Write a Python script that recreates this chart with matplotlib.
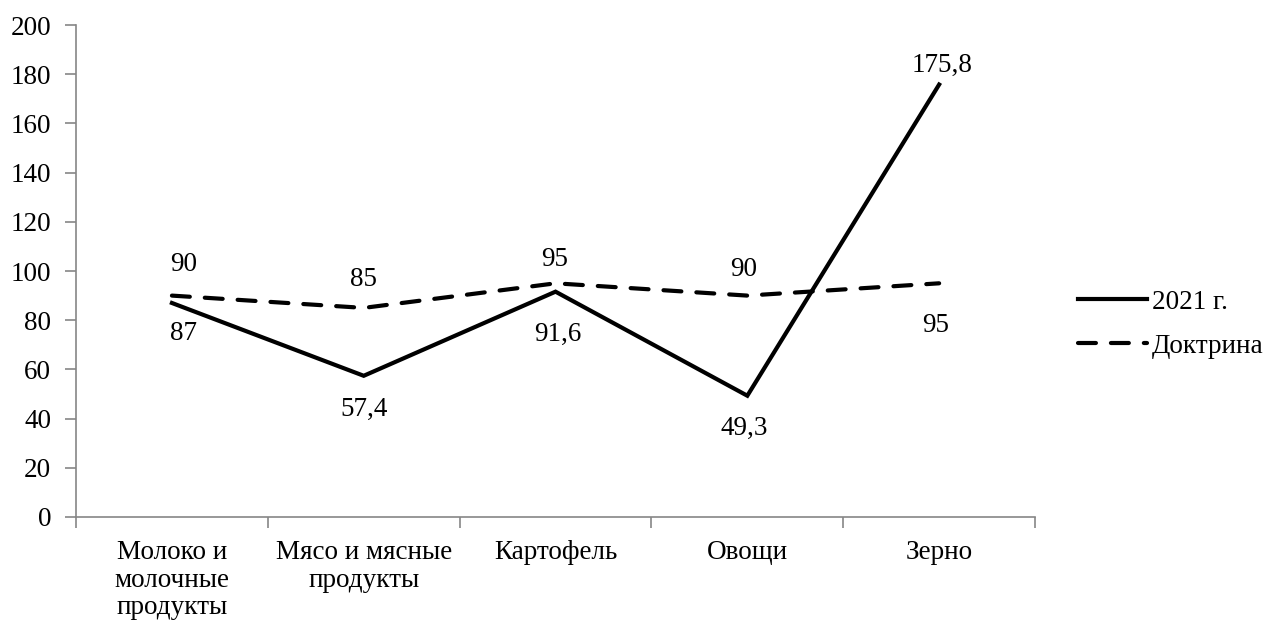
import matplotlib.pyplot as plt
from matplotlib.ticker import FixedLocator, NullFormatter

categories = ["Молоко и\nмолочные\nпродукты", "Мясо и мясные\nпродукты",
              "Картофель", "Овощи", "Зерно"]
series_2021 = [87, 57.4, 91.6, 49.3, 175.8]
series_doctrine = [90, 85, 95, 90, 95]
yticks = list(range(0, 201, 20))

# label placement, pixel offsets (dx, dy) from each point
offsets_2021 = [(12, -31), (0, -34), (2, -43), (-3, -33), (3, 19)]
offsets_doctrine = [(12, 31), (0, 28), (-1, 24), (-4, 26), (-4, -42)]

plt.rcParams['font.family'] = ['Liberation Serif', 'DejaVu Serif']
FS = 19.5

fig = plt.figure(figsize=(12.63, 6.21), dpi=100)
ax = fig.add_axes([0.0602, 0.1675, 0.7593, 0.7922])

x = list(range(len(categories)))
l1, = ax.plot(x, series_2021, color='black', lw=3.0, solid_joinstyle='miter',
              label="2021 г.")
l2, = ax.plot(x, series_doctrine, color='black', lw=3.0, dashes=(4.3, 3.6),
              dash_capstyle='round', label="Доктрина")

ax.set_xlim(-0.5, len(categories) - 0.5)
ax.set_ylim(0, 200)
ax.set_yticks(yticks)
ax.set_yticklabels([str(v) for v in yticks], fontsize=FS)

ax.xaxis.set_major_locator(FixedLocator([i - 0.5 for i in range(len(categories) + 1)]))
ax.xaxis.set_major_formatter(NullFormatter())
for i, c in enumerate(categories):
    ax.text(i, -9.5, c, ha='center', va='top', fontsize=FS, linespacing=1.12,
            transform=ax.transData)

spine_c = '#868686'
for s in ('top', 'right'):
    ax.spines[s].set_visible(False)
for s in ('left', 'bottom'):
    ax.spines[s].set_color(spine_c)
    ax.spines[s].set_linewidth(1.2)
ax.tick_params(axis='y', direction='out', length=8, width=1.2, color=spine_c, pad=10)
ax.tick_params(axis='x', direction='out', length=8, width=1.2, color=spine_c)


def fmt(v):
    return f"{v:g}".replace('.', ',')


for i in x:
    for vals, offs in ((series_2021, offsets_2021), (series_doctrine, offsets_doctrine)):
        ax.annotate(fmt(vals[i]), (i, vals[i]), xytext=offs[i],
                    textcoords='offset pixels', ha='center', va='center',
                    fontsize=FS)

fig.legend(handles=[l1, l2], loc='center left', bbox_to_anchor=(0.8535, 0.478),
           frameon=False, fontsize=FS, handlelength=2.55, handletextpad=0.18,
           labelspacing=0.7, borderaxespad=0, borderpad=0)

fig.savefig('out.png', dpi=100)
